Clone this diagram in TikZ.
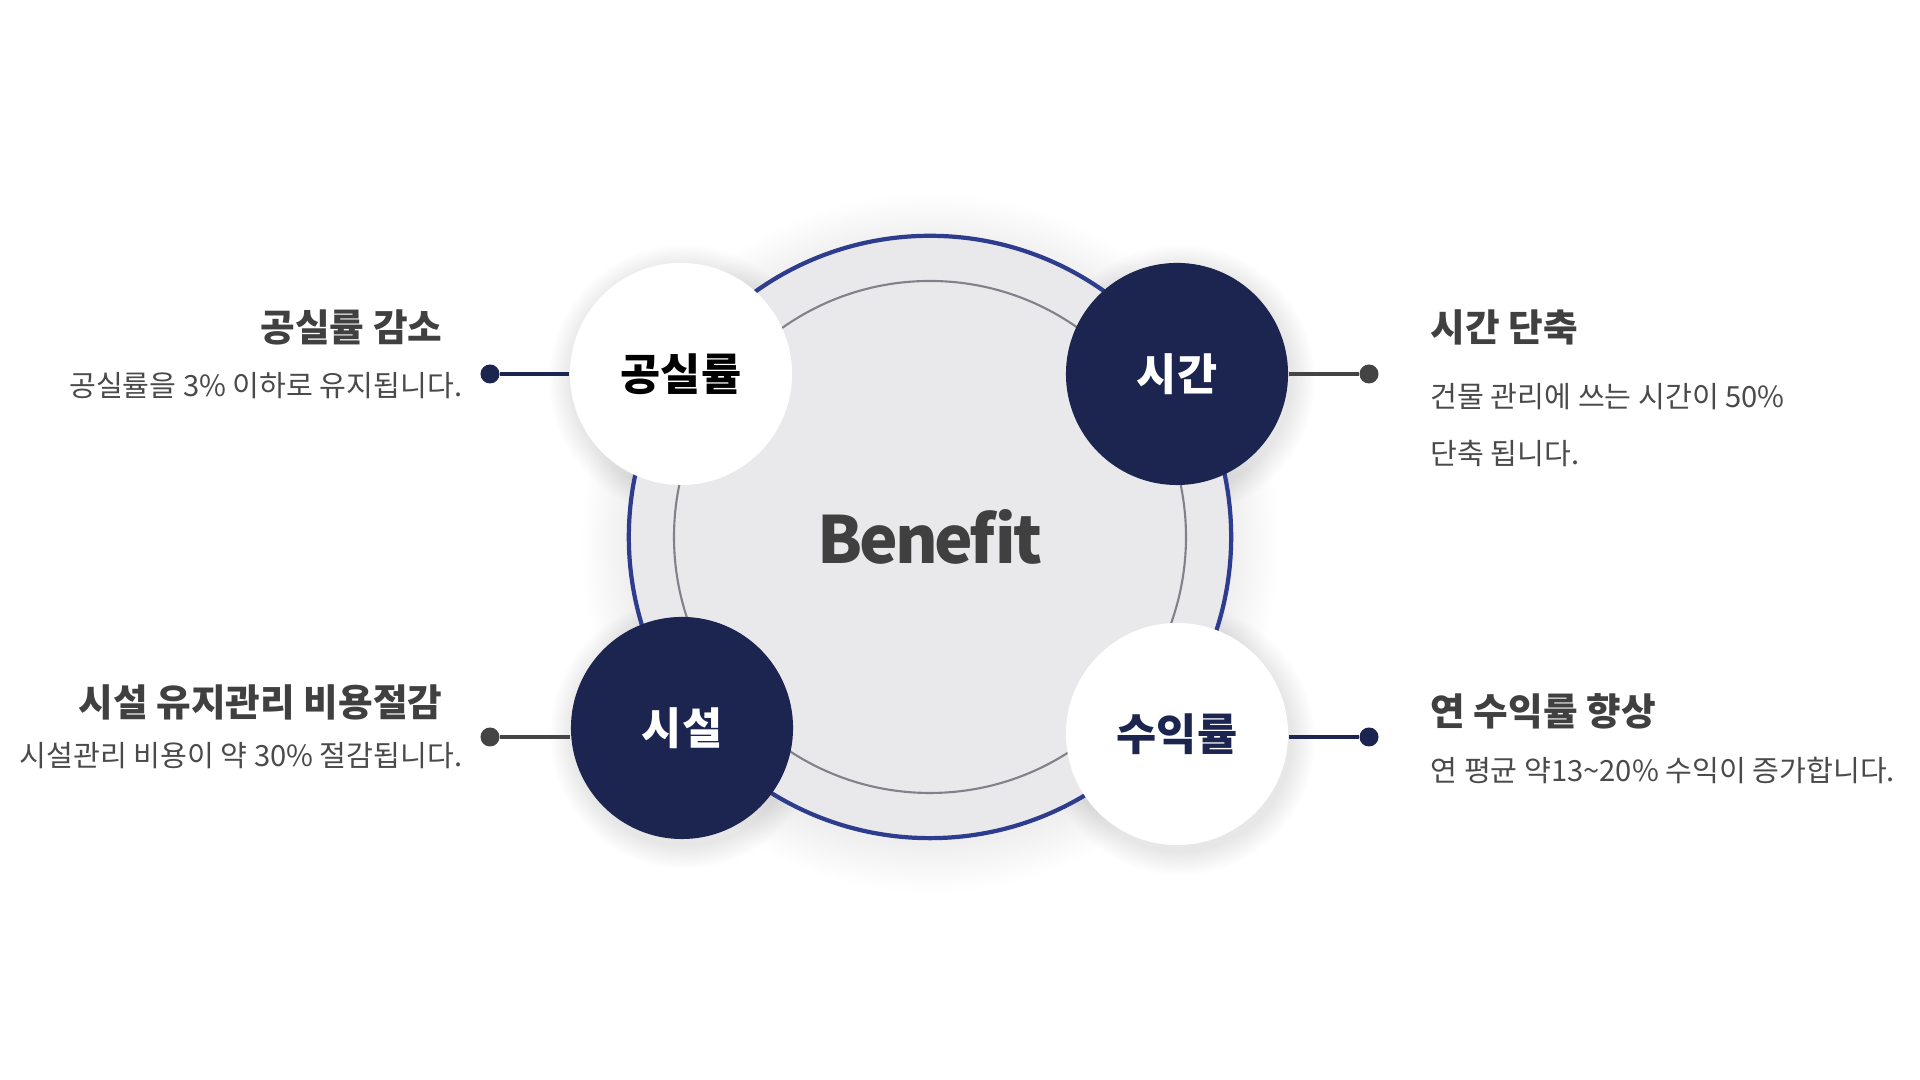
\documentclass[tikz,border=0pt]{standalone}
\usepackage{fontspec}
\setmainfont{Noto Sans CJK KR}
\definecolor{navy}{HTML}{1B2550}
\definecolor{ringblue}{HTML}{2E3C8E}
\definecolor{coregray}{HTML}{E9E9EC}
\definecolor{linegray}{HTML}{818189}
\definecolor{headgray}{HTML}{404040}
\definecolor{descgray}{HTML}{4A4A4A}
\definecolor{darkline}{HTML}{444444}
\begin{document}
\begin{tikzpicture}[x=0.01cm, y=0.01cm,
  bubble/.style={circle, minimum size=2.22cm, inner sep=0pt, font=\fontsize{12.4}{14}\selectfont\bfseries},
  dotmark/.style={circle, minimum size=0.19cm, inner sep=0pt},
  link/.style={line width=0.9pt},
  head/.style={inner sep=0pt, font=\fontsize{10.7}{13}\selectfont\bfseries, text=headgray},
  desc/.style={inner sep=0pt, font=\fontsize{8.3}{16.2}\selectfont, text=descgray, align=left}
]
  \useasboundingbox (0,0) rectangle (1920,1080);

  % centres
  \coordinate (cmain) at (930,543);
  \coordinate (cgong) at (681,706);
  \coordinate (csigan) at (1177,706);
  \coordinate (csisul) at (682,352);
  \coordinate (csuik) at (1177,346);

  % soft glow
  \foreach \r in {1,...,16}
    \fill[black, opacity=0.005] ([shift={(0,-6)}]cmain) circle ({301+\r*3});
  \foreach \c in {cgong,csigan,csisul,csuik}
    \foreach \r in {1,...,12}
      \fill[black, opacity=0.009] ([shift={(3,-6)}]\c) circle ({111+\r*2});

  % Benefit
  \node[circle, minimum size=6.02cm, inner sep=0pt, fill=coregray, draw=ringblue, line width=1.2pt,
        font=\fontsize{18.5}{20}\selectfont\bfseries\addfontfeatures{LetterSpace=-5}, text=headgray] (core) at (cmain) {Benefit};
  \draw[linegray, line width=0.6pt] (core.center) circle (256);

  % bubbles
  \node[bubble, fill=white, text=black] (gong) at (cgong) {공실률};
  \node[bubble, fill=navy, text=white] (sigan) at (csigan) {시간};
  \node[bubble, fill=navy, text=white] (sisul) at (csisul) {시설};
  \node[bubble, fill=white, text=navy] (suik) at (csuik) {수익률};

  % end dots
  \node[dotmark, fill=navy] (dgong) at (490,706) {};
  \node[dotmark, fill=darkline] (dsigan) at (1369,706) {};
  \node[dotmark, fill=darkline] (dsisul) at (490,343) {};
  \node[dotmark, fill=navy] (dsuik) at (1369,343) {};

  \draw[link, navy] (dgong) -- (gong);
  \draw[link, darkline] (sigan) -- (dsigan);
  \draw[link, darkline] (dsisul) -- (sisul.west |- dsisul);
  \draw[link, navy] (suik.east |- dsuik) -- (dsuik);

  % texts
  \node[head, anchor=east] (hgong) at (443,753) {공실률 감소};
  \node[desc, anchor=east] (tgong) at (463,694) {공실률을 3\% 이하로 유지됩니다.};

  \node[head, anchor=west] (hsigan) at (1430,753) {시간 단축};
  \node[desc, anchor=north west] (tsigan) at (1430,697) {건물 관리에 쓰는 시간이 50\%\\단축 됩니다.};

  \node[head, anchor=east] (hsisul) at (443,378) {시설 유지관리 비용절감};
  \node[desc, anchor=east] (tsisul) at (463,324) {시설관리 비용이 약 30\% 절감됩니다.};

  \node[head, anchor=west] (hsuik) at (1430,369) {연 수익률 향상};
  \node[desc, anchor=west] (tsuik) at (1430,310) {연 평균 약13\textasciitilde 20\% 수익이 증가합니다.};
\end{tikzpicture}
\end{document}
